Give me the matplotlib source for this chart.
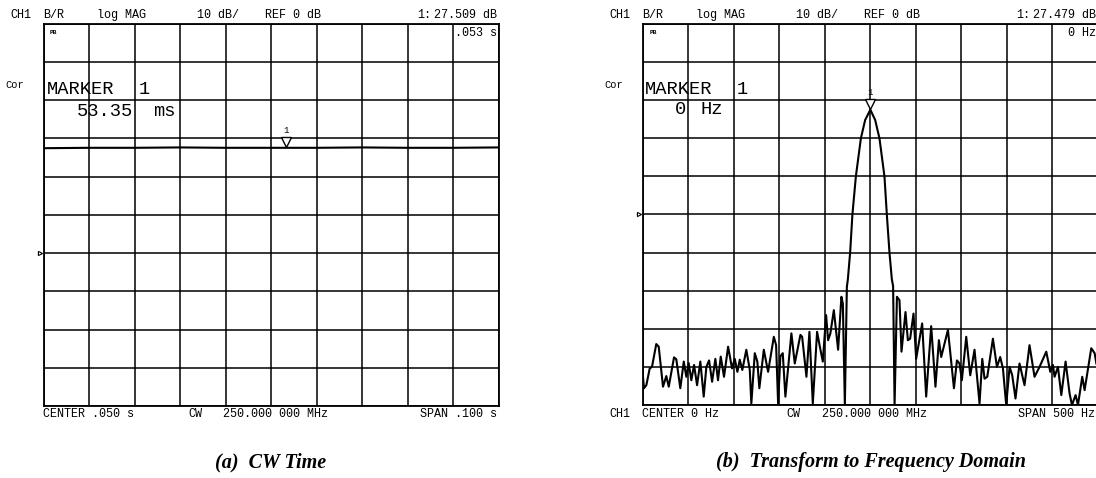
import numpy as np
import matplotlib
matplotlib.use('Agg')
import matplotlib.pyplot as plt
from matplotlib.transforms import offset_copy

W, H = 1096, 478

# (a) CW time: level of the trace over the 100 ms sweep
cw_time_s = [0.0, 0.01, 0.02, 0.03, 0.04, 0.05, 0.06, 0.07, 0.08, 0.09, 0.10]
cw_level_db = [27.4, 27.5, 27.5, 27.6, 27.5, 27.5, 27.5, 27.6, 27.5, 27.5, 27.6]
cw_marker_s = 0.05335
cw_marker_db = 27.509

# (b) transform to frequency domain
freq_hz = [-250, -248.6, -246.0, -242.3, -239.8, -235.1, -232.4, -227.7, -224.1, -221.4,
           -215.6, -213.1, -208.7, -204.9, -202.1, -199.5, -196.6, -193.6, -190.3, -186.7,
           -183.0, -180.1, -177.1, -173.8, -170.2, -167.3, -164.3, -160.7, -156.2, -151.9,
           -148.9, -146.0, -143.4, -140.6, -136.2, -132.4, -130.7, -126.9, -124.1,
           -121.9, -117.0, -112.3, -106.0, -103.5, -101.3, -98.8, -96.2, -93.3, -86.7,
           -83.0, -76.8, -74.9, -70.2, -66.9, -63.2, -58.5, -54.8, -52.2, -48.6,
           -46.4, -43.9, -40.1, -35.4, -31.8, -30.2, -28.0,
           -25.8, -24.7, -22.2, -19.7, -15.9, -10.4, -5.7, 0.0, 5.3, 10.0, 15.5, 18.1,
           21.0, 23.6, 25.0, 26.6,
           29.2, 32.0, 34.2, 38.6, 41.2, 43.7, 47.4, 50.3, 56.9, 61.3,
           66.8, 71.5, 75.3, 77.8, 85.2, 87.7, 91.8, 95.1, 97.9, 100.5,
           105.3, 109.7, 114.4, 119.9,
           122.9, 125.4, 128.4, 134.6, 139.0, 142.6, 145.6, 149.2, 152.9, 155.8,
           159.4, 163.8, 169.3, 174.8, 180.3, 185.8, 193.2, 197.6, 200.5, 202.3,
           206.0, 209.7, 214.4, 218.8, 221.4, 225.4, 228.0, 232.7, 235.3, 242.6,
           246.3, 248.2]
mag_db = [-41.7, -45.6, -44.8, -40.4, -40.0, -34.0, -34.7, -45.2, -42.4, -45.2,
          -37.5, -38.0, -45.6, -38.6, -42.6, -39.0, -43.5, -39.5, -44.8, -38.6,
          -47.8, -40.0, -38.3, -43.9, -37.9, -43.5, -37.3, -42.6, -34.7, -40.4,
          -37.9, -41.3, -38.1, -40.8, -35.5, -40.8, -49.6, -36.4, -38.6,
          -45.6, -35.5, -41.3, -32.1, -34.3, -49.6, -37.2, -36.4, -47.8, -31.2,
          -39.1, -31.6, -32.1, -42.6, -30.8, -49.6, -30.8, -35.5, -38.6, -26.4,
          -33.0, -31.2, -25.1, -35.5, -21.6, -23.4, -50.0,
          -19.0, -17.0, -10.0, 0.0, 10.0, 20.0, 24.8, 27.5, 24.8, 20.0, 10.0, 0.0,
          -10.0, -17.0, -18.8, -50.0,
          -21.6, -22.5, -36.0, -25.6, -33.0, -32.6, -26.0, -37.9, -28.6, -47.8,
          -29.3, -45.2, -33.0, -37.4, -30.3, -36.0, -45.6, -38.3, -39.1, -43.5,
          -32.1, -42.2, -35.5, -49.6,
          -37.9, -43.1, -42.6, -32.6, -40.0, -37.4, -40.4, -50.0, -40.0, -42.2,
          -48.3, -39.1, -44.8, -34.3, -42.6, -40.0, -36.0, -41.3, -39.5, -42.6,
          -40.0, -47.4, -38.6, -47.0, -50.0, -47.4, -50.0, -42.6, -46.1, -35.1,
          -36.4, -39.1]
freq_marker_hz = 0.0
freq_marker_db = 27.479

MONO = 'Liberation Mono'


def px(x, y):
    # pixel position (from top left) -> figure fraction
    return x / W, 1 - y / H


def txt(x, y, s, size=8.5, ha='left', **kw):
    fx, fy = px(x, y)
    fig.text(fx, fy, s, fontsize=size, family=MONO, ha=ha, va='center', color='black', **kw)


def setup_panel(ax, xlim, ylim, ref_db):
    ax.set_xlim(*xlim)
    ax.set_ylim(*ylim)
    ax.set_xticks(np.linspace(xlim[0], xlim[1], 11))
    ax.set_yticks(np.linspace(ylim[0], ylim[1], 11))
    ax.grid(True, color='black', lw=1.1)
    ax.tick_params(length=0, labelbottom=False, labelleft=False)
    for s in ax.spines.values():
        s.set_linewidth(1.3)
    ax.set_axisbelow(True)
    # reference position arrow on the left edge
    ax.plot([-0.008], [ref_db], marker='>', ms=3, mfc='white', mec='black', mew=0.8,
            transform=ax.get_yaxis_transform(), clip_on=False)


def marker(ax, x, y):
    tr = offset_copy(ax.transData, fig=fig, x=0, y=6, units='dots')
    ax.plot([x], [y], marker='v', ms=7, mfc='white', mec='black', mew=1.0,
            transform=tr, clip_on=False, zorder=5)
    tr2 = offset_copy(ax.transData, fig=fig, x=0, y=13, units='dots')
    ax.text(x, y, '1', transform=tr2, fontsize=6.5, family=MONO, ha='center', va='bottom')


fig = plt.figure(figsize=(W / 100, H / 100), dpi=100)

# ---- (a) CW time
ax1 = fig.add_axes([43.5 / W, 1 - 406 / H, 455 / W, 382.5 / H])
setup_panel(ax1, (0.0, 0.1), (-40, 60), 0)
ax1.plot(cw_time_s, cw_level_db, color='black', lw=1.5)
marker(ax1, cw_marker_s, cw_marker_db)

# ---- (b) frequency domain
ax2 = fig.add_axes([642.7 / W, 1 - 405 / H, 455.3 / W, 381 / H])
setup_panel(ax2, (-250, 250), (-50, 50), 0)
ax2.plot(freq_hz, mag_db, color='black', lw=1.5, solid_joinstyle='round')
marker(ax2, freq_marker_hz, freq_marker_db)

# header lines
for dx, val, mk in [(0, '27.509 dB', '.053 s'), (599.2, '27.479 dB', '0 Hz')]:
    txt(10 + dx, 15, 'CH1')
    txt(43 + dx, 15, 'B/R')
    txt(96.7 + dx, 15, 'log MAG')
    txt(197 + dx, 15, '10 dB/')
    txt(265 + dx, 15, 'REF 0 dB')
    txt(416.7 + dx, 15, '1:')
    txt(497 + dx, 15, val, ha='right')
    txt(497 + dx, 33, mk, ha='right')
    txt(5 + dx, 85, 'Cor', size=7.5)
    txt(50 + dx, 33, 'PB', size=4.5, weight='bold')

# marker readouts
txt(46.7, 90, 'MARKER', size=13.5)
txt(138.3, 90, '1', size=13.5)
txt(76.7, 111.7, '53.35', size=13.5)
txt(153.3, 111.7, 'ms', size=13.5)
txt(645, 90, 'MARKER', size=13.5)
txt(736.7, 90, '1', size=13.5)
txt(675, 110, '0', size=13.5)
txt(700, 110, 'Hz', size=13.5)

# footer lines
txt(43, 414, 'CENTER .050 s')
txt(188.3, 414, 'CW')
txt(222.9, 414, '250.000 000 MHz')
txt(497.5, 414, 'SPAN .100 s', ha='right')
txt(609, 414, 'CH1')
txt(641.7, 414, 'CENTER 0 Hz')
txt(786.7, 414, 'CW')
txt(821.7, 414, '250.000 000 MHz')
txt(1095, 414, 'SPAN 500 Hz', ha='right')

# captions
for cx, cap in [(271, '(a)  CW Time'), (870.5, '(b)  Transform to Frequency Domain')]:
    fx, fy = px(cx, 462)
    fig.text(fx, fy, cap, fontsize=14.5, family='Liberation Serif', weight='bold',
             style='italic', ha='center', va='center')

fig.savefig('out.png', dpi=100)
plt.close(fig)
